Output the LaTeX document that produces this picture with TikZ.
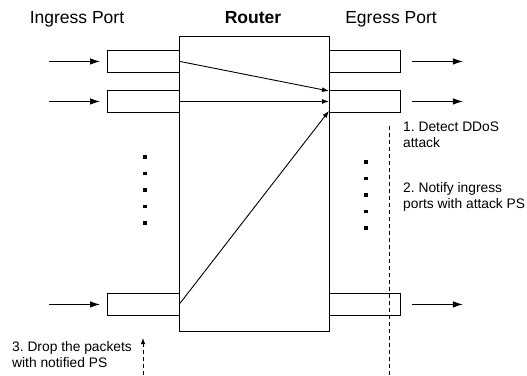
\documentclass[tikz,border=0pt]{standalone}
\usepackage{fontspec}
\setmainfont{Liberation Sans}
\frenchspacing
\usetikzlibrary{arrows.meta,calc}
\tikzset{
  portbox/.style={draw, line width=0.9pt, inner sep=0pt, minimum height=22pt, anchor=north west},
  flow/.style={line width=0.9pt, -{Latex[length=10pt,width=6.5pt]}},
  inner/.style={line width=0.9pt, -{Latex[length=7pt,width=5pt]}},
  head/.style={font=\fontsize{17.5}{20}\selectfont, anchor=base},
  note/.style={font=\fontsize{13.8}{16.5}\selectfont, align=left, anchor=north west, inner sep=0pt},
  guide/.style={line width=0.8pt, dash pattern=on 4pt off 3pt},
  dot/.style={fill, inner sep=0pt, minimum size=3.2pt},
}
\begin{document}
\begin{tikzpicture}[x=1pt,y=-1pt]
\useasboundingbox (0,0) rectangle (527,375);

% headings
\node[head] (hin) at (77,23) {Ingress Port};
\node[head, font=\fontsize{17.5}{20}\selectfont\bfseries] (hrt) at (253,23) {Router};
\node[head] (hout) at (391,23) {Egress Port};

% router body
\node[draw, line width=0.9pt, inner sep=0pt, minimum width=150pt, minimum height=295pt, anchor=north west] (router) at (179,36) {};

% ingress ports
\node[portbox, minimum width=72pt] (in1) at (107,50) {};
\node[portbox, minimum width=72pt] (in2) at (107,90) {};
\node[portbox, minimum width=72pt] (in3) at (107,293) {};

% egress ports
\node[portbox, minimum width=71pt] (out1) at (329,50) {};
\node[portbox, minimum width=71pt] (out2) at (329,90) {};
\node[portbox, minimum width=71pt] (out3) at (329,293) {};

% incoming traffic
\foreach \p in {in1,in2,in3}
  \draw[flow] ($(\p.west)+(-58,0)$) -- ($(\p.west)+(-7,0)$);

% outgoing traffic
\foreach \p in {out1,out2,out3}
  \draw[flow] ($(\p.east)+(11,0)$) -- ($(\p.east)+(62,0)$);

% switching inside the router, all towards egress port 2
\draw[inner] (in1.east) -- ($(out2.north west)+(0,1)$);
\draw[inner] (in2.east) -- (out2.west);
\draw[inner] ($(in3.east)+(0,-1)$) -- ($(out2.south west)+(0,-2)$);

% elided ports
\foreach \y in {157,173.5,190,206.5,223}
  \node[dot] at (145,\y) {};
\foreach \y in {162,178.5,195,211.5,228}
  \node[dot] at (366,\y) {};

% detection line at the egress side
\coordinate (dtop) at (389,126);
\coordinate (dbot) at (389,375);
\draw[guide] (dtop) -- (dbot);

% feedback to the ingress side
\coordinate (fbot) at (143,375);
\coordinate (ftop) at (143,338);
\draw[guide, -{Latex[length=6pt,width=4.5pt]}] (fbot) -- (ftop);

% step notes
\node[note] (n1) at (403,121.5) {1. Detect DDoS\\attack};
\node[note] (n2) at (403,182) {2. Notify ingress\\ports with attack PS};
\node[note] (n3) at (12,341) {3. Drop the packets\\with notified PS};
\end{tikzpicture}
\end{document}
